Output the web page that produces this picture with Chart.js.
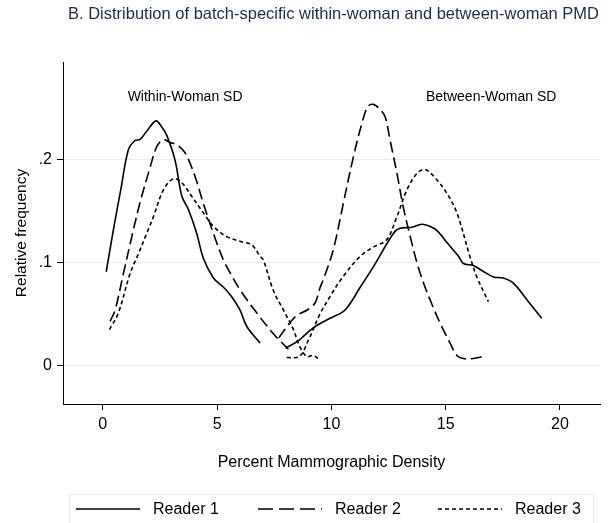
<!DOCTYPE html>
<html lang="en">
<head>
  <meta charset="UTF-8">
  <title>Distribution of batch-specific within-woman and between-woman PMD</title>
  <script src="https://cdn.jsdelivr.net/npm/chart.js"></script>
  <style>
    body {
      margin: 0;
      background: #fff;
    }
    canvas {
      display: block;
    }
  </style>
</head>
<body>
  <canvas id="chartPmd" width="609" height="523"></canvas>

  <script>
    const FONT = '"Liberation Sans", Arial, Helvetica, sans-serif';

    // Reader 1 (solid)
    const r1WithinX = [0.15, 0.46, 0.8, 1.12, 1.41, 1.63, 1.92, 2.33, 2.58, 2.8, 3.16, 3.46, 3.75, 4.11, 4.4, 4.84, 5.28, 5.6, 6.0, 6.3, 6.88];
    const r1WithinY = [0.091, 0.131, 0.172, 0.209, 0.218, 0.219, 0.227, 0.237, 0.231, 0.223, 0.199, 0.164, 0.151, 0.128, 0.104, 0.085, 0.076, 0.068, 0.054, 0.038, 0.022];
    const r1BetweenX = [8.0, 8.55, 9.0, 9.36, 9.94, 10.6, 11.26, 11.84, 12.71, 13.0, 13.52, 13.95, 14.3, 14.61, 15.1, 15.56, 15.78, 16.21, 16.6, 17.09, 17.52, 17.96, 18.55, 19.2];
    const r1BetweenY = [0.017, 0.024, 0.033, 0.039, 0.046, 0.054, 0.076, 0.096, 0.128, 0.133, 0.134, 0.137, 0.135, 0.131, 0.118, 0.106, 0.099, 0.097, 0.092, 0.086, 0.085, 0.080, 0.064, 0.046];

    // Reader 2 (long dash)
    const r2WithinX = [0.32, 0.54, 0.9, 1.27, 1.63, 2.07, 2.36, 2.65, 2.94, 3.24, 3.6, 4.04, 4.4, 4.84, 5.28, 5.42, 6.02, 6.74, 7.46, 8.12];
    const r2WithinY = [0.043, 0.054, 0.089, 0.125, 0.158, 0.192, 0.212, 0.219, 0.216, 0.214, 0.206, 0.183, 0.157, 0.128, 0.102, 0.096, 0.073, 0.051, 0.031, 0.016];
    const r2BetweenX = [7.7, 8.2, 8.5, 8.94, 9.29, 9.51, 9.64, 10.08, 10.52, 10.96, 11.34, 11.6, 11.84, 12.13, 12.35, 12.57, 12.87, 13.14, 13.45, 13.74, 14.05, 14.39, 14.76, 15.19, 15.49, 15.77, 16.2, 16.72];
    const r2BetweenY = [0.027, 0.042, 0.049, 0.054, 0.061, 0.076, 0.083, 0.112, 0.157, 0.202, 0.235, 0.251, 0.253, 0.248, 0.241, 0.218, 0.186, 0.154, 0.125, 0.100, 0.079, 0.060, 0.041, 0.022, 0.010, 0.007, 0.007, 0.0095];

    // Reader 3 (short dash)
    const r3WithinX = [0.29, 0.68, 1.19, 1.55, 1.92, 2.21, 2.65, 3.09, 3.46, 3.89, 4.4, 4.84, 5.42, 6.08, 6.52, 6.88, 7.03, 7.46, 7.9, 8.34, 8.63, 8.92, 9.2, 9.43];
    const r3WithinY = [0.035, 0.051, 0.089, 0.108, 0.128, 0.144, 0.170, 0.181, 0.177, 0.164, 0.148, 0.135, 0.125, 0.120, 0.117, 0.106, 0.102, 0.073, 0.054, 0.035, 0.018, 0.009, 0.010, 0.007];
    const r3BetweenX = [8.05, 8.6, 9.0, 9.5, 9.94, 10.5, 11.26, 11.84, 12.42, 12.86, 13.3, 13.74, 14.1, 14.61, 15.05, 15.49, 16.07, 16.36, 16.87];
    const r3BetweenY = [0.008, 0.009, 0.025, 0.050, 0.067, 0.086, 0.106, 0.115, 0.122, 0.144, 0.170, 0.186, 0.190, 0.180, 0.167, 0.148, 0.105, 0.086, 0.062];

    const readers = ['Reader 1', 'Reader 2', 'Reader 3'];
    const xTicks = [0, 5, 10, 15, 20];
    const yTicks = [0, 0.1, 0.2];
    const yTickLabels = ['0', '.1', '.2'];

    const dashPlot = [[], [11, 5], [4, 3]];
    const dashLegend = [[], [15, 6], [4, 3]];

    function pts(xs, ys) {
      return xs.map((x, i) => ({ x: x, y: ys[i] }));
    }

    function curve(label, xs, ys, r) {
      return {
        label: label,
        data: pts(xs, ys),
        borderColor: '#000',
        borderWidth: 1.6,
        borderDash: dashPlot[r],
        pointRadius: 0,
        tension: 0.35,
        fill: false
      };
    }

    // title, annotations and legend
    const extras = {
      id: 'extras',
      afterDraw(chart) {
        const ctx = chart.ctx;
        const xs = chart.scales.x;
        const ys = chart.scales.y;
        ctx.save();

        ctx.fillStyle = '#1c2b4f';
        ctx.font = '16.5px ' + FONT;
        ctx.textAlign = 'left';
        ctx.textBaseline = 'middle';
        ctx.fillText('B. Distribution of batch-specific within-woman and between-woman PMD', 68, 14);

        ctx.fillStyle = '#000';
        ctx.font = '14px ' + FONT;
        ctx.textAlign = 'center';
        ctx.fillText('Within-Woman SD', xs.getPixelForValue(3.6), ys.getPixelForValue(0.26));
        ctx.fillText('Between-Woman SD', xs.getPixelForValue(16.99), ys.getPixelForValue(0.26));

        // legend
        ctx.strokeStyle = '#e6eef0';
        ctx.lineWidth = 1;
        ctx.strokeRect(69.5, 494.5, 524, 40);
        const lx = [76, 258, 438];
        ctx.font = '16px ' + FONT;
        ctx.textAlign = 'left';
        readers.forEach((name, r) => {
          ctx.strokeStyle = '#000';
          ctx.lineWidth = 1.6;
          ctx.setLineDash(dashLegend[r]);
          ctx.beginPath();
          ctx.moveTo(lx[r], 509);
          ctx.lineTo(lx[r] + 64, 509);
          ctx.stroke();
          ctx.setLineDash([]);
          ctx.fillStyle = '#000';
          ctx.fillText(name, lx[r] + 77, 510);
        });
        ctx.restore();
      }
    };

    const chart = new Chart(document.getElementById('chartPmd'), {
      type: 'line',
      data: {
        datasets: [
          curve('Reader 1', r1WithinX, r1WithinY, 0),
          curve('Reader 1 between', r1BetweenX, r1BetweenY, 0),
          curve('Reader 2', r2WithinX, r2WithinY, 1),
          curve('Reader 2 between', r2BetweenX, r2BetweenY, 1),
          curve('Reader 3', r3WithinX, r3WithinY, 2),
          curve('Reader 3 between', r3BetweenX, r3BetweenY, 2)
        ]
      },
      options: {
        responsive: false,
        animation: false,
        devicePixelRatio: 1,
        layout: {
          padding: { top: 62, right: 9, left: 0, bottom: 0 }
        },
        plugins: {
          legend: { display: false },
          tooltip: { enabled: false },
          title: { display: false }
        },
        scales: {
          x: {
            type: 'linear',
            min: -1.74,
            max: 21.75,
            afterBuildTicks: s => { s.ticks = xTicks.map(v => ({ value: v })); },
            afterFit: s => { s.height = 119; },
            grid: { drawOnChartArea: false, drawTicks: true, tickLength: 6, tickColor: '#000' },
            border: { display: true, color: '#000', width: 1 },
            ticks: {
              color: '#000',
              font: { family: FONT, size: 16 },
              padding: 5,
              maxRotation: 0,
              autoSkip: false,
              callback: v => String(v)
            },
            title: {
              display: true,
              text: 'Percent Mammographic Density',
              color: '#000',
              font: { family: FONT, size: 16 },
              padding: { top: 0, bottom: 51 }
            }
          },
          y: {
            min: -0.037,
            max: 0.294,
            afterBuildTicks: s => { s.ticks = yTicks.map(v => ({ value: v })); },
            afterFit: s => { s.width = 63; },
            grid: { color: '#e6eef0', tickColor: '#000', tickLength: 6, drawTicks: true },
            border: { display: true, color: '#000', width: 1 },
            ticks: {
              color: '#000',
              font: { family: FONT, size: 16 },
              padding: 5,
              callback: (v, i) => yTickLabels[i]
            },
            title: {
              display: true,
              text: 'Relative frequency',
              color: '#000',
              font: { family: FONT, size: 15.5 },
              padding: { top: 12, bottom: 0 }
            }
          }
        }
      },
      plugins: [extras]
    });
  </script>
</body>
</html>
